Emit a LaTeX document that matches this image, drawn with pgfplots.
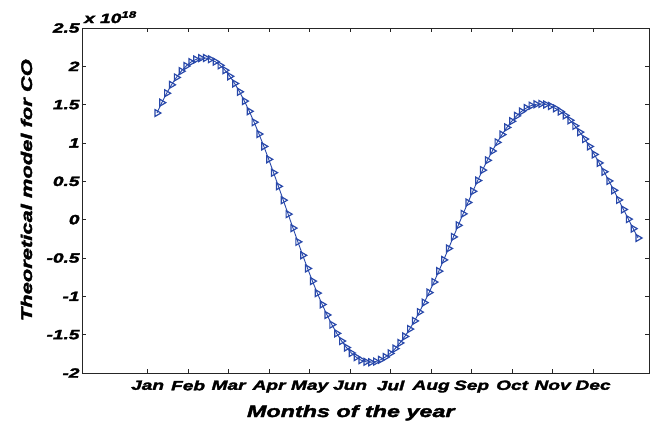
\documentclass[border=0pt]{standalone}
\usepackage{fontspec}
\setmainfont{Liberation Sans}
\newfontface\hv{Liberation Sans Bold Italic}[FakeBold=2.4, FakeStretch=1.42]
\usepackage{pgfplots}
\pgfplotsset{compat=1.18}
\definecolor{mk}{RGB}{40,72,170}
\begin{document}
\begin{tikzpicture}
\useasboundingbox (-82bp,-48bp) rectangle (569bp,373bp);
\begin{axis}[
  at={(0,0)}, anchor=south west,
  scale only axis, width=567bp, height=345bp,
  xmin=-0.62, xmax=13.38, ymin=-2, ymax=2.5,
  xtick={1,2,3,4,5,6,7,8,9,10,11,12},
  xticklabels={Jan,Feb,Mar,Apr,May,Jun,Jul,Aug,Sep,Oct,Nov,Dec},
  ytick={-2,-1.5,-1,-0.5,0,0.5,1,1.5,2,2.5},
  yticklabels={-2,-1.5,-1,-0.5,0,0.5,1,1.5,2,2.5},
  tick align=inside, major tick length=4bp,
  xtick pos=both, ytick pos=both,
  axis line style={line width=0.9bp, black!85},
  tick style={line width=0.6bp, black!85},
  tick label style={font=\fontsize{13.5}{15}\hv},
  xticklabel style={yshift=-4bp},
  yticklabel style={xshift=1bp},
  xlabel={Months of the year},
  ylabel={Theoretical model for CO},
  xlabel style={font=\fontsize{16.5}{18}\hv, at={(rel axis cs:0.474,0)}, anchor=base, yshift=-44bp},
  ylabel style={font=\fontsize{15.5}{17}\hv, at={([xshift=-50bp]rel axis cs:0,0.53)}, anchor=base},
  clip=false,
]
\addplot[color=mk, line width=0.9bp, mark=triangle, mark size=4bp, mark options={solid, rotate=-90, line width=1.2bp}] coordinates {
(1.23,1.391) (1.35,1.526) (1.47,1.649) (1.59,1.759) (1.71,1.855) (1.83,1.937) (1.95,2.004) (2.07,2.055) (2.19,2.089) (2.31,2.107)
(2.43,2.109) (2.55,2.093) (2.67,2.061) (2.79,2.013) (2.91,1.949) (3.03,1.870) (3.15,1.776) (3.27,1.668) (3.39,1.547) (3.51,1.414)
(3.63,1.271) (3.75,1.117) (3.87,0.956) (3.99,0.787) (4.11,0.613) (4.23,0.435) (4.35,0.254) (4.47,0.072) (4.59,-0.110) (4.71,-0.289)
(4.83,-0.465) (4.95,-0.636) (5.07,-0.801) (5.19,-0.958) (5.31,-1.106) (5.43,-1.243) (5.55,-1.369) (5.67,-1.483) (5.79,-1.583) (5.91,-1.668)
(6.03,-1.739) (6.15,-1.793) (6.27,-1.832) (6.39,-1.854) (6.51,-1.860) (6.63,-1.851) (6.75,-1.828) (6.87,-1.792) (6.99,-1.744) (7.11,-1.682)
(7.23,-1.608) (7.35,-1.523) (7.47,-1.427) (7.59,-1.321) (7.71,-1.206) (7.83,-1.082) (7.95,-0.951) (8.07,-0.814) (8.19,-0.672) (8.31,-0.525)
(8.43,-0.376) (8.55,-0.225) (8.67,-0.074) (8.79,0.076) (8.91,0.224) (9.03,0.370) (9.15,0.510) (9.27,0.646) (9.39,0.774) (9.51,0.895)
(9.63,1.008) (9.75,1.110) (9.87,1.203) (9.99,1.284) (10.11,1.354) (10.23,1.411) (10.35,1.456) (10.47,1.487) (10.59,1.505) (10.71,1.510)
(10.83,1.502) (10.95,1.483) (11.07,1.452) (11.19,1.411) (11.31,1.359) (11.43,1.296) (11.55,1.224) (11.67,1.142) (11.79,1.052) (11.91,0.955)
(12.03,0.851) (12.15,0.740) (12.27,0.625) (12.39,0.505) (12.51,0.383) (12.63,0.258) (12.75,0.133) (12.87,0.007) (12.99,-0.117) (13.11,-0.239)
};
\node[anchor=base west, inner sep=0pt, font=\fontsize{13.5}{15}\hv] at ([xshift=2bp, yshift=5bp]rel axis cs:0,1) {x 10\textsuperscript{18}};
\end{axis}
\end{tikzpicture}
\end{document}
